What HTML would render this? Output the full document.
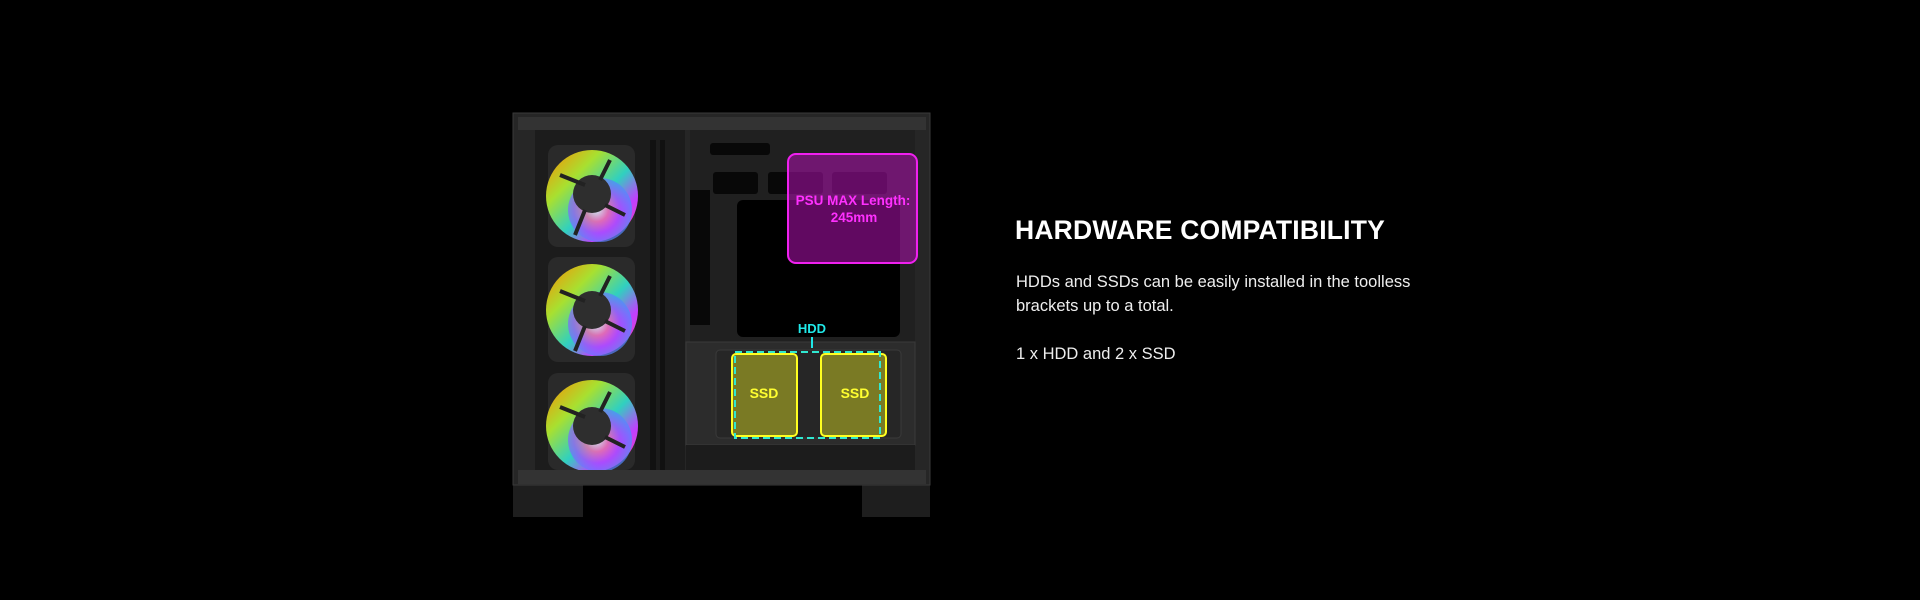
<!DOCTYPE html>
<html><head><meta charset="utf-8"><style>
html,body{margin:0;padding:0;background:#000;width:1920px;height:600px;overflow:hidden}
.t{position:absolute;left:1015px;top:215px;color:#fff;font-family:"Liberation Sans",sans-serif;font-weight:bold;font-size:26.5px;letter-spacing:0.2px}
.b{position:absolute;left:1016px;top:270px;color:#eee;font-family:"Liberation Sans",sans-serif;font-size:16.5px;line-height:24px}
</style></head><body>
<svg width="1920" height="600" style="position:absolute;left:0;top:0" font-family="Liberation Sans, sans-serif">
<defs>
<radialGradient id="fg" cx="0.45" cy="0.5" r="0.6">
<stop offset="0" stop-color="#fff"/><stop offset="0.3" stop-color="#ff6aa0"/><stop offset="0.6" stop-color="#a050ff"/><stop offset="1" stop-color="#30a0ff"/></radialGradient>
<linearGradient id="fg2" x1="0" y1="0" x2="1" y2="1">
<stop offset="0" stop-color="#ff8a00"/><stop offset="0.3" stop-color="#a8e030"/><stop offset="0.55" stop-color="#30d0c0"/><stop offset="0.75" stop-color="#c040ff"/><stop offset="1" stop-color="#ff40a0"/></linearGradient>
</defs>
<rect x="513" y="480" width="70" height="37" fill="#1e1e1e"/>
<rect x="862" y="480" width="68" height="37" fill="#1e1e1e"/>
<rect x="513" y="113" width="417" height="372" fill="#262626" stroke="#3a3a3a"/>
<rect x="518" y="117" width="408" height="13" fill="#333"/>
<rect x="518" y="470" width="408" height="14" fill="#333"/>
<rect x="535" y="130" width="150" height="340" fill="#1c1c1c"/>
<g>
<rect x="548" y="145" width="87" height="102" rx="10" fill="#2a2a2a"/>
<circle cx="592" cy="196" r="46" fill="url(#fg2)"/><circle cx="600" cy="210" r="32" fill="url(#fg)" opacity="0.7"/>
<circle cx="592" cy="194" r="19" fill="#2e2e2e"/>
<path d="M560 175 L585 185 M610 160 L600 180 M625 215 L605 205 M575 235 L585 210" stroke="#222" stroke-width="4"/>
<rect x="548" y="257" width="87" height="105" rx="10" fill="#2a2a2a"/>
<circle cx="592" cy="310" r="46" fill="url(#fg2)"/><circle cx="600" cy="324" r="32" fill="url(#fg)" opacity="0.7"/>
<circle cx="592" cy="310" r="19" fill="#2e2e2e"/>
<path d="M560 291 L585 301 M610 276 L600 296 M625 331 L605 321 M575 351 L585 326" stroke="#222" stroke-width="4"/>
<rect x="548" y="373" width="87" height="97" rx="10" fill="#2a2a2a"/>
<circle cx="592" cy="426" r="46" fill="url(#fg2)"/><circle cx="600" cy="440" r="32" fill="url(#fg)" opacity="0.7"/>
<circle cx="592" cy="426" r="19" fill="#2e2e2e"/>
<path d="M560 407 L585 417 M610 392 L600 412 M625 447 L605 437" stroke="#222" stroke-width="4"/>
<rect x="548" y="470" width="90" height="12" fill="#333"/>
</g>
<rect x="650" y="140" width="6" height="330" fill="#111"/>
<rect x="660" y="140" width="5" height="330" fill="#111"/>
<rect x="690" y="130" width="225" height="215" fill="#202020"/>
<rect x="710" y="143" width="60" height="12" rx="3" fill="#080808"/>
<rect x="713" y="172" width="45" height="22" rx="3" fill="#080808"/>
<rect x="768" y="172" width="55" height="22" rx="3" fill="#080808"/>
<rect x="832" y="172" width="55" height="22" rx="3" fill="#080808"/>
<rect x="737" y="200" width="163" height="137" rx="6" fill="#000"/>
<rect x="690" y="190" width="20" height="135" fill="#080808"/>
<rect x="686" y="342" width="229" height="103" fill="#2c2c2c" stroke="#3a3a3a"/>
<rect x="716" y="350" width="185" height="88" rx="4" fill="#262626" stroke="#3a3a3a"/>
<rect x="686" y="445" width="229" height="25" fill="#1c1c1c"/>
<rect x="788" y="154" width="129" height="109" rx="8" fill="#b010b0" fill-opacity="0.55" stroke="#f020f0" stroke-width="2"/>
<text x="853" y="205" font-size="13.5" font-weight="bold" fill="#ff30ff" text-anchor="middle">PSU MAX Length:</text>
<text x="854" y="222" font-size="13.5" font-weight="bold" fill="#ff30ff" text-anchor="middle">245mm</text>
<text x="812" y="333" font-size="13" font-weight="bold" fill="#20e8e8" text-anchor="middle">HDD</text>
<line x1="812" y1="337" x2="812" y2="348" stroke="#20e8e8" stroke-width="2"/>
<rect x="732" y="354" width="65" height="82" rx="4" fill="#7a7a24" stroke="#ffff20" stroke-width="2"/>
<rect x="821" y="354" width="65" height="82" rx="4" fill="#7a7a24" stroke="#ffff20" stroke-width="2"/>
<rect x="735" y="352" width="145" height="86" fill="none" stroke="#30e8d0" stroke-width="2" stroke-dasharray="7,4"/>
<text x="764" y="398" font-size="14" font-weight="bold" fill="#ffff30" text-anchor="middle">SSD</text>
<text x="855" y="398" font-size="14" font-weight="bold" fill="#ffff30" text-anchor="middle">SSD</text>
</svg>
<div class="t">HARDWARE COMPATIBILITY</div>
<div class="b">HDDs and SSDs can be easily installed in the toolless<br>brackets up to a total.<br><br>1 x HDD and 2 x SSD</div>
</body></html>
